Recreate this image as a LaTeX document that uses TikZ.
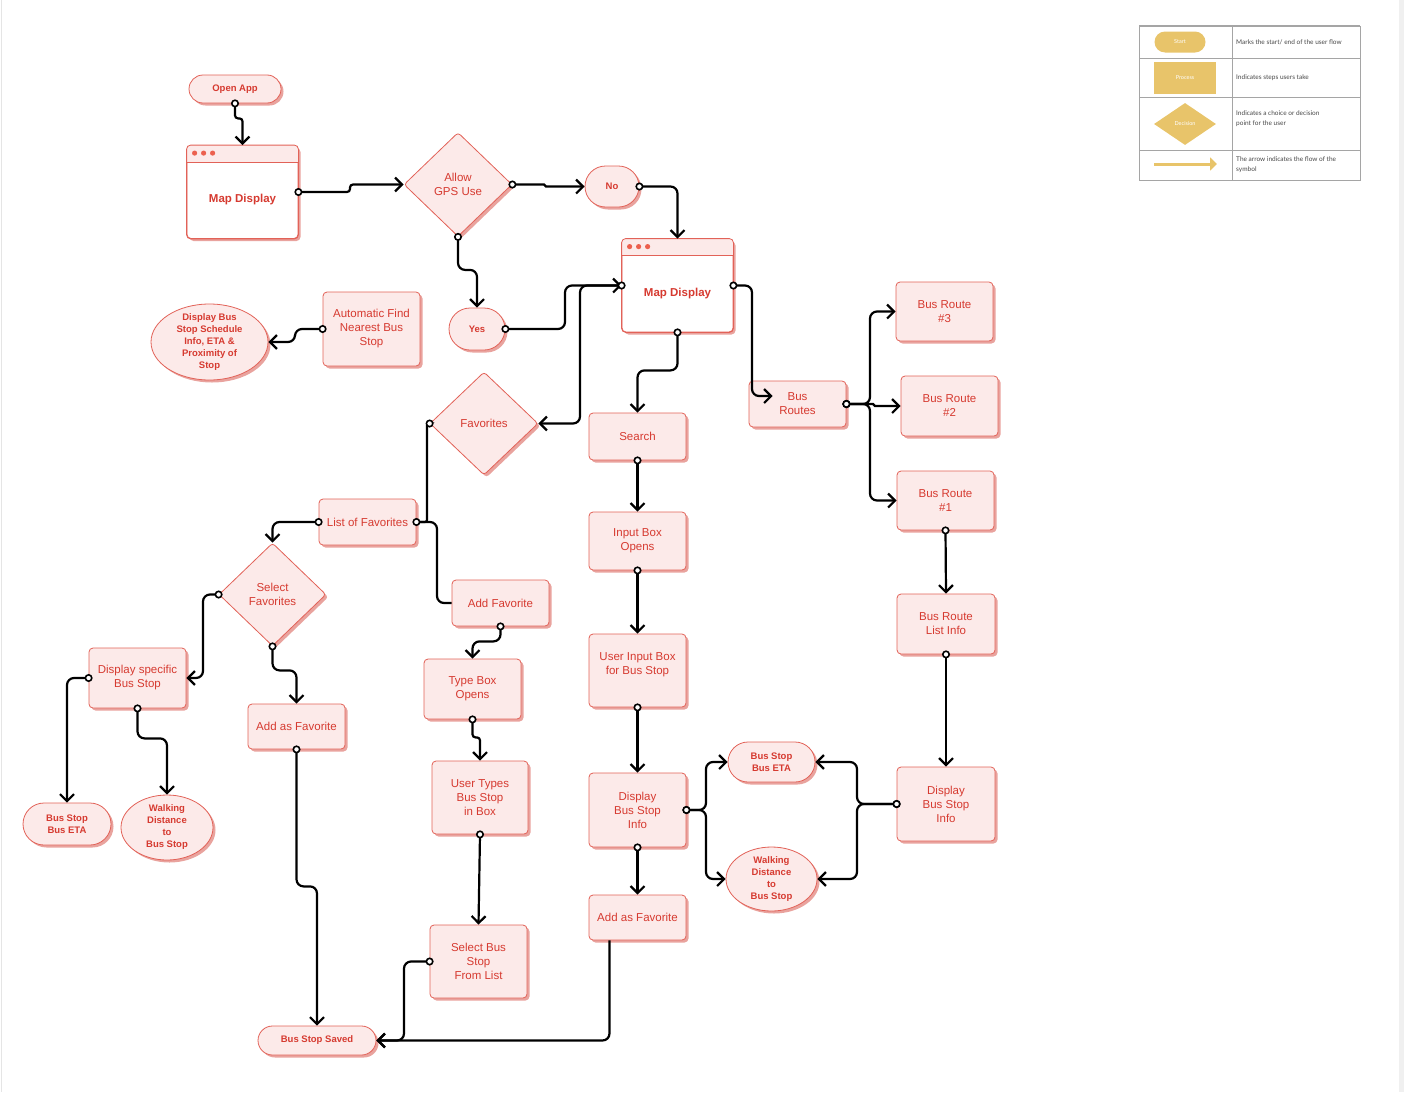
\documentclass[tikz,border=0pt]{standalone}
\usepackage{fontspec}
\setmainfont{Liberation Sans}
\newfontfamily\legendfont{Lato}
\usetikzlibrary{arrows.meta, shapes.geometric, shapes.misc, shadows}

\definecolor{txtred}{RGB}{214,58,48}
\definecolor{boxline}{RGB}{226,98,88}
\definecolor{boxfill}{RGB}{252,234,233}
\definecolor{shadowred}{RGB}{233,163,158}
\definecolor{dotred}{RGB}{236,96,78}
\definecolor{gold}{RGB}{232,196,106}
\definecolor{legline}{RGB}{165,165,165}
\definecolor{legtxt}{RGB}{70,70,70}

% window header with three dots
\newcommand\winhead[1]{%
  \begin{scope}
    \clip[rounded corners=4pt] (#1.south west) rectangle (#1.north east);
    \fill[boxfill] (#1.north west) rectangle ([yshift=-17pt]#1.north east);
  \end{scope}
  \draw[boxline, line width=0.8pt, rounded corners=4pt] (#1.south west) rectangle (#1.north east);
  \draw[boxline, line width=0.8pt] ([yshift=-17pt]#1.north west) -- ([yshift=-17pt]#1.north east);
  \foreach \dx in {8,17,26} \fill[dotred] ([shift={(\dx pt,-8pt)}]#1.north west) circle (2.6pt);
}

\tikzset{
  base/.style={draw=boxline, line width=0.8pt, fill=boxfill, text=txtred, align=center,
               font=\fontsize{11.5}{14}\selectfont,
               drop shadow={shadow xshift=2.5pt, shadow yshift=-2.5pt, fill=shadowred, opacity=1}},
  proc/.style={base, rectangle, rounded corners=4pt, minimum width=97pt, minimum height=46pt, inner sep=2pt},
  term/.style={base, rounded rectangle, inner sep=2pt, font=\bfseries\fontsize{9.5}{11.5}\selectfont},
  oval/.style={base, ellipse, inner xsep=0pt, inner ysep=-6pt, font=\bfseries\fontsize{9.5}{12}\selectfont},
  choice/.style={base, diamond, rounded corners=3pt, minimum width=108pt, minimum height=104pt, inner sep=0pt},
  win/.style={base, rectangle, fill=white, rounded corners=4pt, minimum width=111pt, minimum height=93pt},
  wintext/.style={text=txtred, font=\bfseries\fontsize{11.5}{13}\selectfont},
  flow/.style={black, line width=2.2pt, rounded corners=7pt, shorten <=-4pt,
               {Circle[fill=white, length=8pt, line width=1.6pt]}-{Straight Barb[length=7pt, width=14pt]}},
  link/.style={black, line width=2.2pt, rounded corners=7pt, shorten <=-4pt,
               {Circle[fill=white, length=8pt, line width=1.6pt]}-},
  feed/.style={black, line width=2.2pt, rounded corners=7pt, -{Straight Barb[length=7pt, width=14pt]}},
  legtext/.style={anchor=west, text=legtxt, align=left, inner sep=0pt, font=\legendfont\fontsize{6.5}{10}\selectfont},
  legshape/.style={fill=gold, text=white, inner sep=0pt, font=\legendfont\fontsize{5.5}{6}\selectfont}
}

\begin{document}
\begin{tikzpicture}[x=1pt, y=-1pt]
\useasboundingbox (0,0) rectangle (1404,1092);
\fill[gray!12] (1399,0) rectangle (1404,1092);
\draw[gray!20, line width=1.5pt] (1.5,0) -- (1.5,1092);

% top flow
\node[term, minimum width=96pt, minimum height=28pt] (openapp) at (235,89) {Open App};
\node[win, label={[wintext, yshift=-8pt]center:Map Display}] (mapa) at (242.5,192) {};
\node[choice] (gps) at (458,184.5) {Allow\\GPS Use};
\node[term, minimum width=58pt, minimum height=41pt] (no) at (612,186.5) {No};
\node[term, minimum width=60pt, minimum height=42pt] (yes) at (477,329) {Yes};
\node[win, label={[wintext, yshift=-8pt]center:Map Display}] (mapb) at (677.5,285.5) {};
\node[proc, minimum height=74pt] (autofind) at (371.5,329) {Automatic Find\\Nearest Bus\\Stop};
\node[oval, minimum width=117pt, minimum height=76pt] (schedule) at (209.5,342) {Display Bus\\Stop Schedule\\Info, ETA \&\\Proximity of\\Stop};

% favourites branch
\node[choice, minimum height=103pt] (fav) at (484,423.5) {Favorites};
\node[proc] (favlist) at (367.5,522) {List of Favorites};
\node[choice, minimum width=107pt, minimum height=103pt] (selfav) at (272.5,594.5) {Select\\Favorites};
\node[proc, minimum height=60pt] (specific) at (137.5,678) {Display specific\\Bus Stop};
\node[proc, minimum height=45pt] (addfavl) at (296.5,726.5) {Add as Favorite};
\node[term, minimum width=92pt, minimum height=42pt] (etal) at (67,824) {Bus Stop\\Bus ETA};
\node[oval, minimum width=92pt, minimum height=65pt] (walkl) at (167,827.5) {Walking\\Distance\\to\\Bus Stop};
\node[proc] (addfav) at (500.5,603) {Add Favorite};
\node[proc, minimum height=60pt] (typebox) at (472.5,689) {Type Box\\Opens};
\node[proc, minimum width=96pt, minimum height=73pt] (usertypes) at (480,797.5) {User Types\\Bus Stop\\in Box};
\node[proc, minimum height=73pt] (selectlist) at (478.5,961.5) {Select Bus\\Stop\\From List};
\node[term, minimum width=122pt, minimum height=29pt] (saved) at (317,1040.5) {Bus Stop Saved};

% search branch
\node[proc, minimum height=47pt] (search) at (637.5,436.5) {Search};
\node[proc, minimum height=58pt] (inputbox) at (637.5,541) {Input Box\\Opens};
\node[proc, minimum height=73pt] (userinput) at (637.5,670.5) {User Input Box\\for Bus Stop\\\mbox{}};
\node[proc, minimum height=74pt] (infom) at (637.5,810) {Display\\Bus Stop\\Info};
\node[proc, minimum height=45pt] (addfavm) at (637.5,917.5) {Add as Favorite};
\node[term, minimum width=91pt, minimum height=40pt] (etam) at (771.5,762) {Bus Stop\\Bus ETA};
\node[oval, minimum width=91pt, minimum height=64pt] (walkm) at (771.5,879) {Walking\\Distance\\to\\Bus Stop};

% route branch
\node[proc] (busroutes) at (797.5,404) {Bus\\Routes};
\node[proc, minimum height=59pt] (routethree) at (944.5,311.5) {Bus Route\\\#3};
\node[proc, minimum height=60pt] (routetwo) at (949.5,406) {Bus Route\\\#2};
\node[proc, minimum height=59pt] (routeone) at (945.5,500.5) {Bus Route\\\#1};
\node[proc, minimum width=98pt, minimum height=60pt] (routelist) at (946,624) {Bus Route\\List Info};
\node[proc, minimum width=98pt, minimum height=74pt] (infor) at (946,804) {Display\\Bus Stop\\Info};

\winhead{mapa}
\winhead{mapb}

% connectors
\draw[flow, rounded corners=3pt] (openapp.south) -- ++(0,15) -| (mapa.north);
\draw[flow, rounded corners=3pt] (mapa.east) -- (350,192) |- (gps.west);
\draw[flow, rounded corners=1pt] (gps.east) -- (545,184.5) |- (no.west);
\draw[flow] (no.east) -| (mapb.north);
\draw[flow] (gps.south) -- ++(0,33) -| (yes.north);
\draw[flow] (yes.east) -- (565,329) |- (mapb.west);
\draw[flow] (mapb.west) -- (580,285.5) |- (fav.east);
\draw[flow] (mapb.south) -- ++(0,38) -| (search.north);
\draw[flow] (mapb.east) -- (752,285.5) |- ([shift={(24,-8)}]busroutes.west);
\draw[flow] (autofind.west) -- (295,329) |- (schedule.east);

\draw[link, rounded corners=2pt] (fav.west) -- (427,423.5) |- (favlist.east);
\draw[link] (favlist.east) -- (437,522) |- (addfav.west);
\draw[flow] (favlist.west) -| (selfav.north);
\draw[flow] (selfav.west) -- (203,594.5) |- (specific.east);
\draw[flow] (selfav.south) -- ++(0,24) -| (addfavl.north);
\draw[flow] (specific.west) -| (etal.north);
\draw[flow] (specific.south) -- ++(0,30) -| (walkl.north);
\draw[flow] (addfavl.south) -- ++(0,137) -| (saved.north);
\draw[flow] (addfav.south) -- ++(0,15) -| (typebox.north);
\draw[flow, rounded corners=3pt] (typebox.south) -- ++(0,18) -| (usertypes.north);
\draw[flow] (usertypes.south) -- (selectlist.north);
\draw[flow] (selectlist.west) -- (404,961.5) |- (saved.east);
\draw[feed] ([xshift=-28pt]addfavm.south) |- (saved.east);

\draw[flow] (search.south) -- (inputbox.north);
\draw[flow] (inputbox.south) -- (userinput.north);
\draw[flow] (userinput.south) -- (infom.north);
\draw[flow] (infom.south) -- (addfavm.north);
\draw[flow] (infom.east) -- (706,810) |- (etam.west);
\draw[flow] (infom.east) -- (706,810) |- (walkm.west);

\draw[flow] (busroutes.east) -- (870,404) |- (routethree.west);
\draw[flow, rounded corners=1pt] (busroutes.east) -- (874,404) |- (routetwo.west);
\draw[flow] (busroutes.east) -- (870,404) |- (routeone.west);
\draw[flow] (routeone.south) -- (routelist.north);
\draw[flow] (routelist.south) -- (infor.north);
\draw[flow] (infor.west) -- (857,804) |- (etam.east);
\draw[flow] (infor.west) -- (857,804) |- (walkm.east);

% legend
\draw[legline, line width=0.8pt] (1139,26) rectangle (1360,180);
\draw[legline, line width=1.6pt] (1139,26) -- (1360,26);
\foreach \ry in {58,97,150} \draw[legline, line width=0.8pt] (1139,\ry) -- (1360,\ry);
\draw[legline, line width=0.8pt] (1232,26) -- (1232,180);
\node[legshape, rounded rectangle, minimum width=51pt, minimum height=21pt] (legstart) at (1180,42) {Start};
\node[legshape, rectangle, minimum width=62pt, minimum height=32pt] (legproc) at (1185,78) {Process};
\node[legshape, diamond, minimum width=62pt, minimum height=42pt] (legdec) at (1185,124) {Decision};
\coordinate (legfrom) at (1154,164);
\coordinate (legto) at (1217,164);
\draw[gold, line width=3pt, -{Triangle[length=7pt, width=13pt]}] (legfrom) -- (legto);
\node[legtext] (txtstart) at (1236,42) {Marks the start/ end of the user flow};
\node[legtext] (txtproc) at (1236,78) {Indicates steps users take};
\node[legtext] (txtdec) at (1236,119) {Indicates a choice or decision\\point for the user};
\node[legtext] (txtarrow) at (1236,165) {The arrow indicates the flow of the\\symbol};
\end{tikzpicture}
\end{document}
